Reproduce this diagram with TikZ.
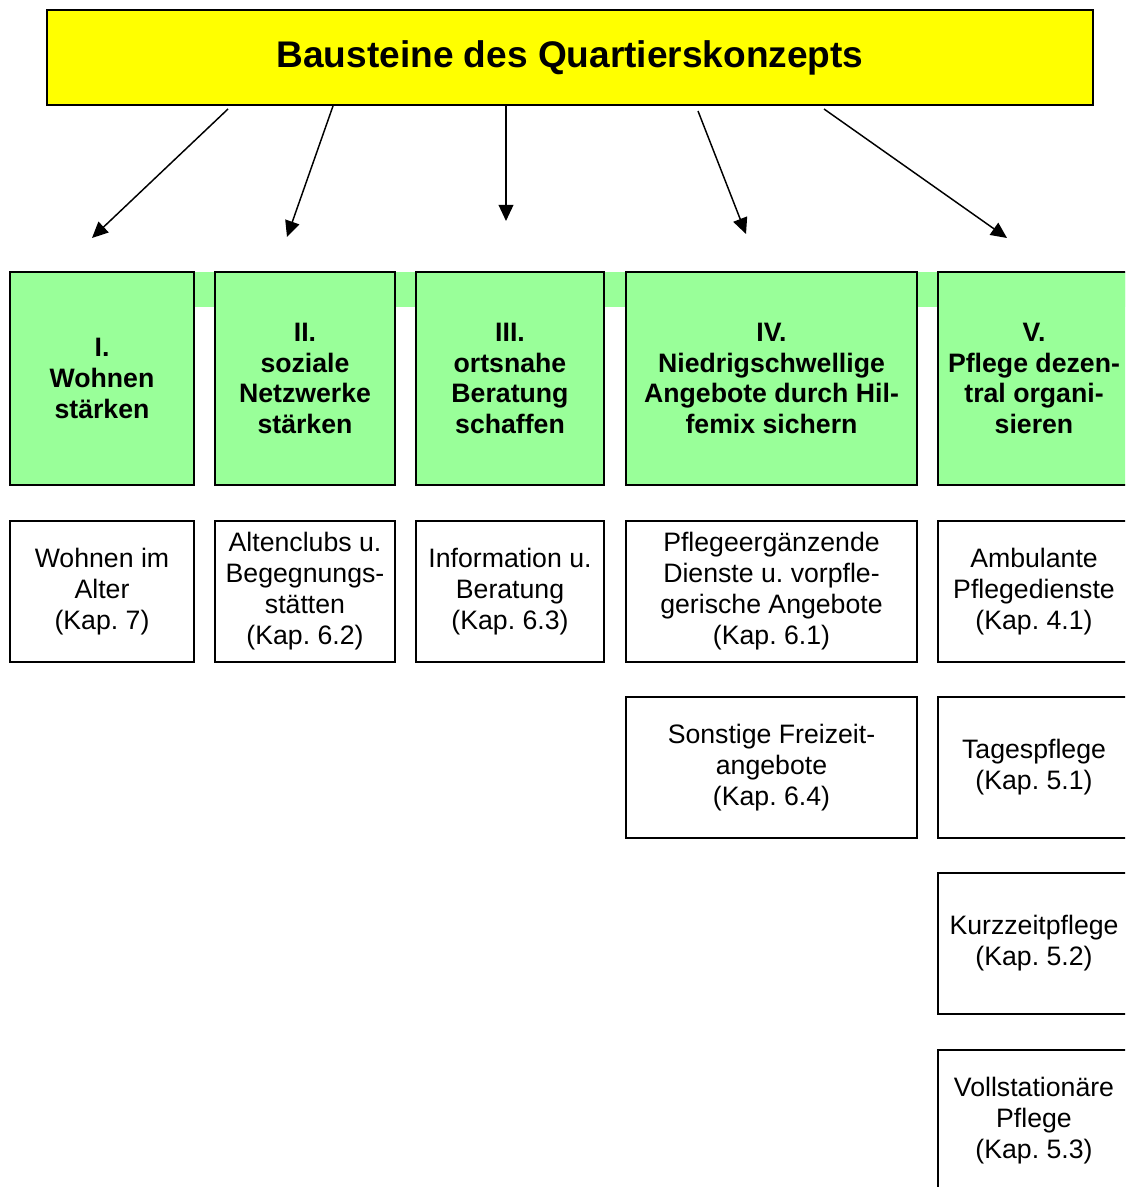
\documentclass[tikz,border=0pt]{standalone}
\usepackage{fontspec}
\setmainfont{Liberation Sans}
\usetikzlibrary{arrows.meta}
\definecolor{hdryellow}{RGB}{255,255,0}
\definecolor{boxgreen}{RGB}{153,255,153}
\frenchspacing
\begin{document}
\begin{tikzpicture}[x=0.75pt,y=-0.75pt,
  sized/.style 2 args={minimum width=#1*0.75pt, minimum height=#2*0.75pt, inner sep=0pt, outer sep=0pt},
  header/.style={draw=black, line width=2.2pt, fill=hdryellow, font=\fontsize{27.8}{32}\selectfont\bfseries},
  gbox/.style={draw=black, line width=1.5pt, fill=boxgreen, align=center, font=\fontsize{20}{23}\selectfont\bfseries},
  wbox/.style={draw=black, line width=1.1pt, fill=white, align=center, font=\fontsize{20}{23.2}\selectfont},
  arr/.style={line width=1.1pt, -{Triangle[length=12pt,width=11pt]}}
]
\useasboundingbox (0,0) rectangle (1125,1187);
\clip (0,0) rectangle (1125,1187);
% header
\node[header, sized={1046}{95}] (hdr) at (570,57.5) {Bausteine des Quartierskonzepts};
% green band
\fill[boxgreen] (10,272) rectangle (1130,307);
% green boxes
\node[gbox, sized={184}{213}] (g1) at (102,378.5) {I.\\Wohnen\\stärken};
\node[gbox, sized={180}{213}] (g2) at (305,378.5) {II.\\soziale\\Netzwerke\\stärken};
\node[gbox, sized={188}{213}] (g3) at (510,378.5) {III.\\ortsnahe\\Beratung\\schaffen};
\node[gbox, sized={291}{213}] (g4) at (771.5,378.5) {IV.\\Niedrigschwellige\\Angebote durch Hil-\\femix sichern};
\node[gbox, sized={192}{213}] (g5) at (1034,378.5) {V.\\Pflege dezen-\\tral organi-\\sieren};
% white boxes row 1
\node[wbox, sized={184}{141}] (w1) at (102,591.5) {Wohnen im\\Alter\\(Kap. 7)};
\node[wbox, sized={180}{141}] (w2) at (305,591.5) {Altenclubs u.\\Begegnungs-\\stätten\\(Kap. 6.2)};
\node[wbox, sized={188}{141}] (w3) at (510,591.5) {Information u.\\Beratung\\(Kap. 6.3)};
\node[wbox, sized={291}{141}] (w4) at (771.5,591.5) {Pflegeergänzende\\Dienste u. vorpfle-\\gerische Angebote\\(Kap. 6.1)};
\node[wbox, sized={192}{141}] (w5) at (1034,591.5) {Ambulante\\Pflegedienste\\(Kap. 4.1)};
% row 2
\node[wbox, sized={291}{141}] (w6) at (771.5,767.5) {Sonstige Freizeit-\\angebote\\(Kap. 6.4)};
\node[wbox, sized={192}{141}] (w7) at (1034,767.5) {Tagespflege\\(Kap. 5.1)};
% row 3
\node[wbox, sized={192}{141}] (w8) at (1034,943.5) {Kurzzeitpflege\\(Kap. 5.2)};
% row 4
\node[wbox, sized={192}{141}] (w9) at (1034,1120.5) {Vollstationäre\\Pflege\\(Kap. 5.3)};
% arrows (free ends)
\coordinate (a1s) at (228,109); \coordinate (a1e) at (92,238);
\coordinate (a2s) at (333,106); \coordinate (a2e) at (287,237);
\coordinate (a3s) at (506,105); \coordinate (a3e) at (506,221);
\coordinate (a4s) at (698,111); \coordinate (a4e) at (746,234);
\coordinate (a5s) at (824,109); \coordinate (a5e) at (1007,238);
\draw[arr] (a1s) -- (a1e);
\draw[arr] (a2s) -- (a2e);
\draw[arr] (a3s) -- (a3e);
\draw[arr] (a4s) -- (a4e);
\draw[arr] (a5s) -- (a5e);
\end{tikzpicture}
\end{document}
